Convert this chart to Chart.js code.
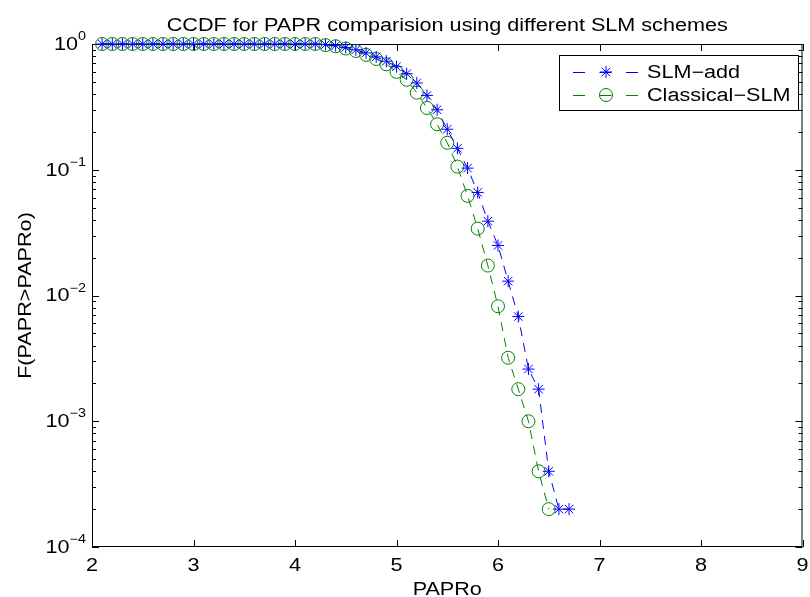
<!DOCTYPE html>
<html lang="en">
<head>
    <meta charset="UTF-8">
    <title>CCDF for PAPR comparision</title>
    <script src="https://cdn.jsdelivr.net/npm/chart.js"></script>
    <style>
        body {
            margin: 0;
            padding: 0;
            background-color: #ffffff;
        }
        #chart-box {
            width: 810px;
            height: 597px;
        }
    </style>
</head>
<body>
    <div id="chart-box">
        <canvas id="ccdf-chart" width="810" height="597"></canvas>
    </div>

    <script>
        // PAPRo values (dB)
        const paprX = [2.1, 2.2, 2.3, 2.4, 2.5, 2.6, 2.7, 2.8, 2.9, 3.0,
                       3.1, 3.2, 3.3, 3.4, 3.5, 3.6, 3.7, 3.8, 3.9, 4.0,
                       4.1, 4.2, 4.3, 4.4, 4.5, 4.6, 4.7, 4.8, 4.9, 5.0,
                       5.1, 5.2, 5.3, 5.4, 5.5, 5.6, 5.7, 5.8, 5.9, 6.0,
                       6.1, 6.2, 6.3, 6.4, 6.5, 6.6, 6.7];
        const slmAdd = [1, 1, 1, 1, 1, 1, 1, 1, 1, 1,
                        1, 1, 1, 1, 1, 1, 1, 1, 1, 1,
                        1, 1, 0.99, 0.97, 0.94, 0.90, 0.85, 0.79, 0.73, 0.66,
                        0.58, 0.49, 0.39, 0.30, 0.21, 0.148, 0.103, 0.066, 0.039, 0.025,
                        0.013, 0.0068, 0.0026, 0.0018, 0.0004, 0.0002, 0.0002];
        const classicalSlm = [1, 1, 1, 1, 1, 1, 1, 1, 1, 1,
                              1, 1, 1, 1, 1, 1, 1, 1, 1, 1,
                              1, 1, 0.98, 0.96, 0.92, 0.88, 0.82, 0.76, 0.69, 0.60,
                              0.52, 0.41, 0.31, 0.23, 0.164, 0.106, 0.062, 0.034, 0.0173, 0.0082,
                              0.0032, 0.0018, 0.001, 0.0004, 0.0002, null, null];
        const seriesNames = ['SLM\u2212add', 'Classical\u2212SLM'];
        const xTicks = [2, 3, 4, 5, 6, 7, 8, 9];
        const yTicks = [1, 0.1, 0.01, 0.001, 0.0001];
        const yTickExps = ['0', '\u22121', '\u22122', '\u22123', '\u22124'];
        const minorMults = [2, 3, 4, 5, 6, 7, 8, 9];

        const FONT = '"Liberation Sans", Arial, sans-serif';
        const STRETCH = 1.2;

        function toPoints(ys) {
            const pts = [];
            ys.forEach((y, i) => {
                if (y !== null) pts.push({x: paprX[i], y: y});
            });
            return pts;
        }

        // text slightly stretched horizontally, like the exported matlab figure
        function drawText(ctx, s, x, y, size, align, baseline, rotate) {
            ctx.save();
            ctx.translate(x, y);
            if (rotate) ctx.rotate(rotate);
            ctx.scale(STRETCH, 1);
            ctx.font = size + 'px ' + FONT;
            ctx.fillStyle = '#000';
            ctx.textAlign = align;
            ctx.textBaseline = baseline;
            ctx.fillText(s, 0, 0);
            ctx.restore();
        }

        function textWidth(ctx, s, size) {
            ctx.save();
            ctx.font = size + 'px ' + FONT;
            const w = ctx.measureText(s).width * STRETCH;
            ctx.restore();
            return w;
        }

        const framePlugin = {
            id: 'matlabFrame',
            beforeDatasetsDraw(chart) {
                const ctx = chart.ctx;
                const a = chart.chartArea;
                const xs = chart.scales.x;
                const ys = chart.scales.y;
                ctx.save();
                ctx.strokeStyle = '#000';
                ctx.lineWidth = 1;
                ctx.strokeRect(a.left + 0.5, a.top + 0.5, a.right - a.left - 1, a.bottom - a.top - 1);
                ctx.beginPath();
                xTicks.forEach(v => {
                    const px = Math.round(xs.getPixelForValue(v)) + 0.5;
                    ctx.moveTo(px, a.bottom); ctx.lineTo(px, a.bottom - 7);
                    ctx.moveTo(px, a.top); ctx.lineTo(px, a.top + 7);
                });
                yTicks.forEach(v => {
                    const py = Math.round(ys.getPixelForValue(v)) + 0.5;
                    ctx.moveTo(a.left, py); ctx.lineTo(a.left + 7, py);
                    ctx.moveTo(a.right, py); ctx.lineTo(a.right - 7, py);
                });
                yTicks.slice(1).forEach(d => {
                    minorMults.forEach(m => {
                        const py = Math.round(ys.getPixelForValue(d * m)) + 0.5;
                        ctx.moveTo(a.left, py); ctx.lineTo(a.left + 4, py);
                        ctx.moveTo(a.right, py); ctx.lineTo(a.right - 4, py);
                    });
                });
                ctx.stroke();
                ctx.restore();
            },
            afterDraw(chart) {
                const ctx = chart.ctx;
                const a = chart.chartArea;
                const xs = chart.scales.x;
                const ys = chart.scales.y;
                const midX = (a.left + a.right) / 2;

                drawText(ctx, 'CCDF for PAPR comparision using different SLM schemes', midX, 31, 18, 'center', 'alphabetic');
                drawText(ctx, 'PAPRo', midX, 595, 18, 'center', 'alphabetic');
                drawText(ctx, 'F(PAPR>PAPRo)', 26, (a.top + a.bottom) / 2, 18, 'center', 'middle', -Math.PI / 2);

                xTicks.forEach(v => {
                    drawText(ctx, String(v), xs.getPixelForValue(v), 557, 18, 'center', 'top');
                });
                yTicks.forEach((v, i) => {
                    const py = ys.getPixelForValue(v);
                    const right = a.left - 6;
                    const ew = textWidth(ctx, yTickExps[i], 12);
                    drawText(ctx, yTickExps[i], right, py - 4, 12, 'right', 'alphabetic');
                    drawText(ctx, '10', right - ew, py + 1, 18, 'right', 'middle');
                });

                // legend
                ctx.save();
                ctx.fillStyle = '#fff';
                ctx.fillRect(559, 55, 239, 55);
                ctx.strokeStyle = '#000';
                ctx.lineWidth = 1;
                ctx.strokeRect(559.5, 55.5, 239, 55);
                ctx.restore();
                chart.data.datasets.forEach((ds, i) => {
                    const cy = 72 + i * 23;
                    ctx.save();
                    ctx.strokeStyle = ds.borderColor;
                    ctx.lineWidth = 1;
                    ctx.setLineDash([12, 14.5]);
                    ctx.beginPath();
                    ctx.moveTo(573, cy + 0.5);
                    ctx.lineTo(639, cy + 0.5);
                    ctx.stroke();
                    ctx.setLineDash([]);
                    ctx.strokeStyle = ds.pointBorderColor;
                    ctx.fillStyle = 'rgba(0,0,0,0)';
                    ctx.lineWidth = 1;
                    Chart.helpers.drawPoint(ctx, {
                        pointStyle: ds.pointStyle,
                        radius: ds.pointRadius,
                        borderWidth: 1,
                        rotation: 0
                    }, 606, cy);
                    ctx.restore();
                    drawText(ctx, seriesNames[i], 647, cy + 1, 18, 'left', 'middle');
                });
            }
        };

        const ctx = document.getElementById('ccdf-chart').getContext('2d');
        new Chart(ctx, {
            type: 'scatter',
            data: {
                datasets: [{
                    label: seriesNames[0],
                    data: toPoints(slmAdd),
                    showLine: true,
                    borderColor: '#0000ff',
                    borderWidth: 1,
                    borderDash: [9, 7],
                    pointStyle: 'star',
                    pointRadius: 6,
                    pointBorderColor: '#0000ff',
                    pointBackgroundColor: 'rgba(0,0,0,0)',
                    pointBorderWidth: 1,
                    clip: false
                }, {
                    label: seriesNames[1],
                    data: toPoints(classicalSlm),
                    showLine: true,
                    borderColor: '#008000',
                    borderWidth: 1,
                    borderDash: [9, 7],
                    pointStyle: 'circle',
                    pointRadius: 6.5,
                    pointBorderColor: '#008000',
                    pointBackgroundColor: 'rgba(0,0,0,0)',
                    pointBorderWidth: 1,
                    clip: false
                }]
            },
            options: {
                responsive: false,
                animation: false,
                events: [],
                layout: {
                    padding: {top: 44, right: 2, left: 0, bottom: 0}
                },
                plugins: {
                    legend: {display: false},
                    title: {display: false},
                    tooltip: {enabled: false}
                },
                scales: {
                    x: {
                        type: 'linear',
                        min: 2,
                        max: 9,
                        grid: {display: false},
                        border: {display: false},
                        ticks: {display: false},
                        afterFit: s => { s.height = 50; }
                    },
                    y: {
                        type: 'logarithmic',
                        min: 0.0001,
                        max: 1,
                        grid: {display: false},
                        border: {display: false},
                        ticks: {display: false},
                        afterFit: s => { s.width = 92; }
                    }
                }
            },
            plugins: [framePlugin]
        });
    </script>
</body>
</html>
